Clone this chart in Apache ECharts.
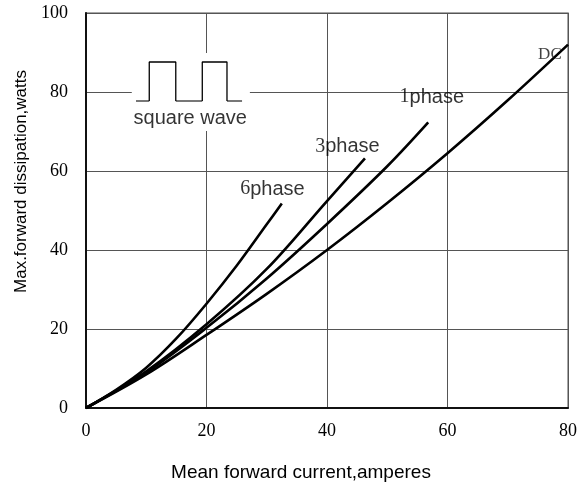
<!DOCTYPE html>
<html>
<head>
<meta charset="utf-8">
<script src="https://cdn.jsdelivr.net/npm/echarts@6/dist/echarts.min.js"></script>
<style>
html,body{margin:0;padding:0;background:#fff;}
#chart{width:582px;height:484px;}
</style>
</head>
<body>
<div id="chart"></div>
<script>
// ---- data ----
var xTicks = [0, 20, 40, 60, 80];
var yTicks = [0, 20, 40, 60, 80, 100];

var dcX = [0, 10, 20, 30, 40, 50, 60, 70, 80];
var dcY = [0, 8.5, 18.5, 28.9, 40, 51.9, 64.5, 77.9, 92];

var phase1X = [0, 10, 20, 30, 40, 50, 56.8];
var phase1Y = [0, 9.0, 20.3, 32.8, 46.6, 61.2, 72.3];

var phase3X = [0, 10, 20, 30, 40, 46.3];
var phase3Y = [0, 9.3, 21.2, 35.2, 52.4, 63.2];

var phase6X = [0, 5, 10, 15, 20, 25, 30, 32.5];
var phase6Y = [0, 4.6, 10.2, 17.6, 26.4, 36, 46.5, 51.8];

// square-wave inset symbol (data coordinates)
var wavePulseX = [10.5, 10.5, 14.9, 14.9, null, 19.3, 19.3, 23.4, 23.4];
var wavePulseY = [77.7, 87.6, 87.6, 77.7, null, 77.7, 87.6, 87.6, 77.7];
var waveBaseX = [8.3, 10.5, null, 14.9, 19.3, null, 23.4, 25.9];
var waveBaseY = [77.7, 77.7, null, 77.7, 77.7, null, 77.7, 77.7];
var insetBoxX = [7.6, 27.2];
var insetBoxY = [70.1, 89.9];

// text labels
var curveLabels = ['6phase', '3phase', '1phase', 'DC'];
var curveLabelAnchorX = [30.95, 43.4, 57.4, 77.0];
var curveLabelAnchorY = [55.4, 66.2, 78.7, 89.4];
var insetText = 'square wave';
var insetTextAnchor = [17.3, 73.2];

var xName = 'Mean forward current,amperes';
var yName = 'Max.forward dissipation,watts';

function zip(xs, ys) {
  var out = [];
  for (var i = 0; i < xs.length; i++) {
    out.push(xs[i] === null ? [null, null] : [xs[i], ys[i]]);
  }
  return out;
}

var chart = echarts.init(document.getElementById('chart'), null, {renderer: 'canvas'});

var curveStyle = {color: '#000', width: 2.6};
function curve(name, xs, ys) {
  return {
    name: name, type: 'line', data: zip(xs, ys), smooth: 0.35,
    symbol: 'none', lineStyle: curveStyle, itemStyle: {color: '#000'}, z: 5,
    silent: true
  };
}

var labelData = [];
for (var i = 0; i < curveLabels.length; i++) {
  var isDC = curveLabels[i] === 'DC';
  var m = curveLabels[i].match(/^(\d)(.*)$/);
  labelData.push({
    value: [curveLabelAnchorX[i], curveLabelAnchorY[i]],
    label: isDC ? {
      formatter: '{dc|DC}'
    } : {
      formatter: '{d|' + m[1] + '}{t|' + m[2] + '}'
    }
  });
}
labelData.push({
  value: insetTextAnchor,
  label: {formatter: '{t|' + insetText + '}'}
});

var option = {
  backgroundColor: '#fff',
  animation: false,
  grid: {
    left: 86, right: 14, top: 13, bottom: 76,
    containLabel: false, outerBoundsMode: 'none',
    show: true, borderColor: '#8a8a8a', borderWidth: 1.5, backgroundColor: 'transparent'
  },
  xAxis: {
    type: 'value', min: xTicks[0], max: xTicks[xTicks.length - 1], interval: 20,
    name: xName, nameLocation: 'middle', nameGap: 55,
    nameTextStyle: {fontFamily: 'Liberation Sans', fontSize: 19, color: '#000', padding: [0, 52, 0, 0]},
    axisLine: {show: true, onZero: false, lineStyle: {color: '#111', width: 2}},
    axisTick: {show: false},
    axisLabel: {fontFamily: 'Liberation Serif', fontSize: 18, color: '#000', margin: 14},
    splitLine: {show: true, lineStyle: {color: '#555', width: 1}}
  },
  yAxis: {
    type: 'value', min: yTicks[0], max: yTicks[yTicks.length - 1], interval: 20,
    name: yName, nameLocation: 'middle', nameGap: 56,
    nameTextStyle: {fontFamily: 'Liberation Sans', fontSize: 17, color: '#000', padding: [0, 0, 0, 58]},
    axisLine: {show: true, onZero: false, lineStyle: {color: '#111', width: 2}},
    axisTick: {show: false},
    axisLabel: {fontFamily: 'Liberation Serif', fontSize: 18, color: '#000', margin: 18},
    splitLine: {show: true, lineStyle: {color: '#555', width: 1}}
  },
  series: [
    {
      type: 'line', data: [], silent: true, z: 2,
      markArea: {
        silent: true,
        itemStyle: {color: '#fff', borderWidth: 0},
        data: [[{coord: [insetBoxX[0], insetBoxY[0]]}, {coord: [insetBoxX[1], insetBoxY[1]]}]]
      }
    },
    {
      type: 'line', data: zip(waveBaseX, waveBaseY), symbol: 'none', connectNulls: false,
      lineStyle: {color: '#777', width: 2}, z: 3, silent: true
    },
    {
      type: 'line', data: zip(wavePulseX, wavePulseY), symbol: 'none', connectNulls: false,
      lineStyle: {color: '#000', width: 1.3}, z: 4, silent: true
    },
    curve('DC', dcX, dcY),
    curve('1phase', phase1X, phase1Y),
    curve('3phase', phase3X, phase3Y),
    curve('6phase', phase6X, phase6Y),
    {
      type: 'scatter', data: labelData, symbolSize: 0, z: 10, silent: true,
      itemStyle: {color: '#000'},
      label: {
        show: true, position: 'inside', align: 'center', verticalAlign: 'middle',
        color: '#000', textBorderWidth: 0,
        rich: {
          d: {fontFamily: 'Liberation Serif', fontSize: 20, color: '#000', textBorderWidth: 0},
          t: {fontFamily: 'Liberation Sans', fontSize: 20, color: '#000', textBorderWidth: 0},
          dc: {fontFamily: 'Liberation Serif', fontSize: 17, color: '#111', textBorderWidth: 0}
        }
      }
    }
  ]
};
chart.setOption(option);
</script>
</body>
</html>
